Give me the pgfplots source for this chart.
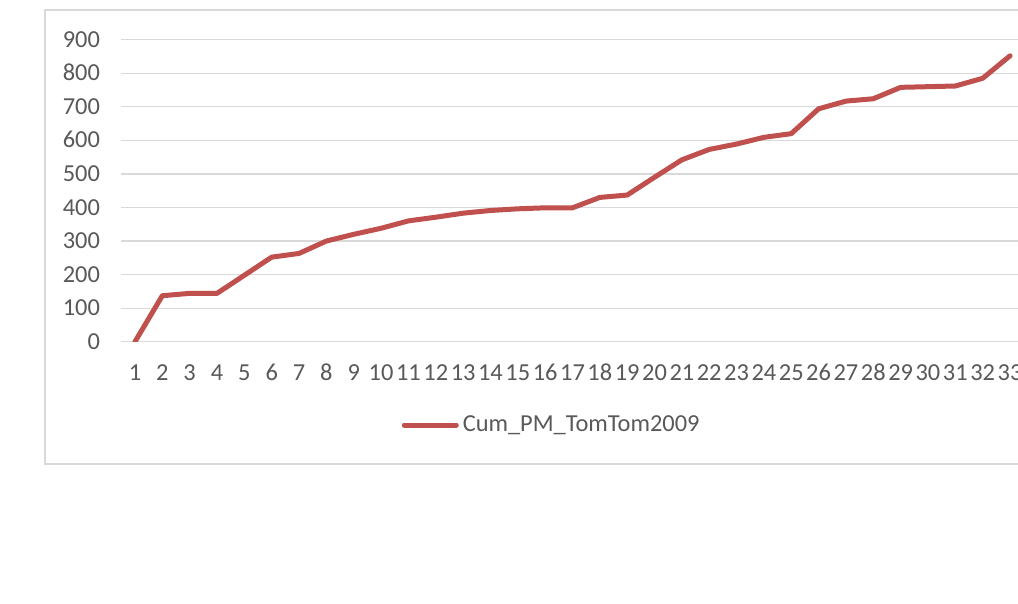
\documentclass[border=0pt]{standalone}
\usepackage{fontspec}
\setmainfont{Carlito}
\usepackage{pgfplots}
\pgfplotsset{compat=1.18}
\definecolor{linered}{RGB}{192,80,77}
\definecolor{gridgray}{RGB}{217,217,217}
\definecolor{textgray}{RGB}{89,89,89}
\pgfplotstableread{
x y
1 0
2 137
3 144
4 144
5 198
6 252
7 263
8 300
9 320
10 338
11 360
12 371
13 383
14 391
15 396
16 399
17 399
18 430
19 437
20 490
21 542
22 573
23 589
24 609
25 620
26 694
27 717
28 724
29 758
30 760
31 762
32 785
33 852
}\datatable
\begin{document}
\begin{tikzpicture}
\clip (0,0) rectangle (509pt,302pt);
\fill[white] (0,0) rectangle (509pt,302pt);
\draw[gridgray, line width=0.7pt] (22.5pt,70pt) rectangle (530pt,297pt);
\begin{axis}[
  at={(60.65pt,131.15pt)}, anchor=south west,
  scale only axis, width=451.2pt, height=151pt,
  xmin=0.5, xmax=33.5, ymin=0, ymax=900,
  xtick={1,...,33}, ytick={0,100,...,900},
  axis line style={draw=none},
  major tick length=0pt,
  ymajorgrids, grid style={gridgray, line width=0.6pt},
  /pgf/number format/assume math mode=true,
  tick label style={font=\fontsize{12.2}{14}\selectfont, text=textgray, inner sep=0pt},
  yticklabel style={anchor=base east, xshift=-10.5pt, yshift=-3.8pt},
  xticklabel style={anchor=base, yshift=-19.2pt},
  legend style={at={(0.478,-0.276)}, anchor=center, draw=none, fill=none,
    font=\fontsize{12.2}{14}\selectfont, text=textgray,
    /tikz/every even column/.append style={column sep=0pt}},
  legend image code/.code={\draw[#1, line width=2.5pt, line cap=round] (0pt,0pt) -- (26pt,0pt);},
]
\addplot[linered, line width=2.5pt, line join=round, line cap=round] table[x=x,y=y] {\datatable};
\addlegendentry{Cum\_PM\_TomTom2009}
\end{axis}
\end{tikzpicture}
\end{document}
